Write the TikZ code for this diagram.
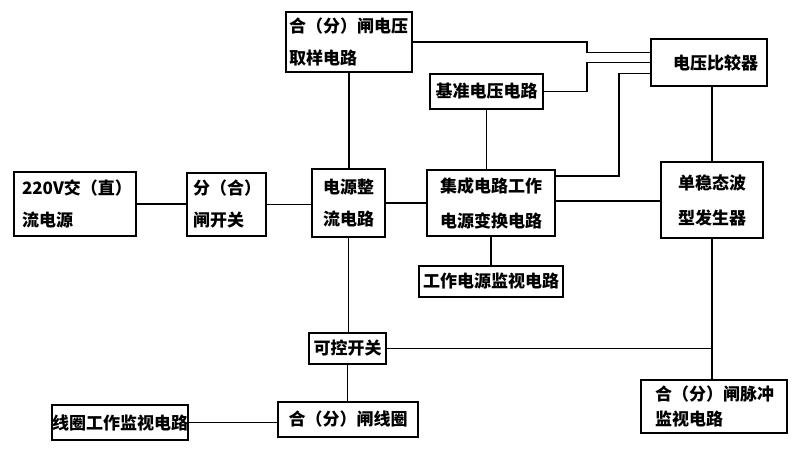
\documentclass[tikz,border=0pt]{standalone}
\usepackage{fontspec}
\setmainfont{Noto Sans CJK SC}
\usepackage{tikz}

\begin{document}
\begin{tikzpicture}[x=1pt,y=-1pt,
  box/.style={draw, line width=1.7pt, inner ysep=0pt, font=\bfseries\fontsize{17}{32}\selectfont},
  wire/.style={line width=1.6pt}]
\fill [white] (0,0) rectangle (800,453);
\useasboundingbox (0,0) rectangle (800,453);
%
\node [box, minimum width=126pt, minimum height=60pt, text width=120pt, inner xsep=3pt, align=left] (sample) at (349,42) {合（分）闸电压\\取样电路};
\node [box, minimum width=113pt, minimum height=35pt, inner xsep=2pt] (ref) at (486.5,91.5) {基准电压电路};
\node [box, minimum width=116pt, minimum height=47pt, text width=98pt, inner xsep=9pt, align=right] (cmp) at (709,62.5) {电压比较器};
%
\node [box, minimum width=122pt, minimum height=64pt, text width=106pt, inner xsep=8pt, align=left] (src) at (75,204) {220V交（直）\\流电源};
\node [box, minimum width=79pt, minimum height=63pt, text width=67pt, inner xsep=6pt, align=left] (brk) at (226.5,204.5) {分（合）\\闸开关};
\node [box, minimum width=73pt, minimum height=68pt, align=center] (rect) at (348.5,203) {电源整\\流电路};
\node [box, minimum width=128pt, minimum height=66pt, align=center] (conv) at (491,203) {集成电路工作\\[3pt]电源变换电路};
\node [box, minimum width=102pt, minimum height=76pt, align=center] (mono) at (712,200) {单稳态波\\[3pt]型发生器};
\node [box, minimum width=144pt, minimum height=31pt, inner xsep=1pt] (psup) at (491,281.5) {工作电源监视电路};
%
\node [box, minimum width=77pt, minimum height=31pt, inner xsep=1pt] (sw) at (347.5,348.5) {可控开关};
\node [box, minimum width=140pt, minimum height=35pt, inner xsep=1pt] (coil) at (348,419.5) {合（分）闸线圈};
\node [box, minimum width=136pt, minimum height=35pt, inner xsep=0pt] (cmon) at (120,422.5) {线圈工作监视电路};
\node [box, minimum width=146pt, minimum height=53pt, text width=118pt, inner xsep=14pt, align=left, font=\bfseries\fontsize{17}{25}\selectfont] (pmon) at (714,406.5) {合（分）闸脉冲\\监视电路};
%
\draw [wire] (sample.east) -- ++(174,0) |- ([yshift=10pt]cmp.west);
\draw [wire] (ref.east) -- ++(43,0) |- (cmp.west);
\draw [wire] ([yshift=27pt]conv.east) -- ++(63,0) |- ([yshift=-11pt]cmp.west);
%
\draw [wire] (src.east) -- (src.east -| brk.west);
\draw [wire] (brk.east) -- (brk.east -| rect.west);
\draw [wire] (rect.east) -- (rect.east -| conv.west);
\draw [wire] ([yshift=2pt]conv.east) -- ([yshift=2pt]conv.east -| mono.west);
%
\draw [wire] (sample.south) -- (sample.south |- rect.north);
\draw [wire] (ref.south) -- (ref.south |- conv.north);
\draw [wire] (conv.south) -- (conv.south |- psup.north);
\draw [wire] (mono.north) -- (mono.north |- cmp.south);
\draw [wire] (rect.south) -- (rect.south |- sw.north);
\draw [wire] (sw.south) -- (sw.south |- coil.north);
\draw [wire] (mono.south) -- (mono.south |- pmon.north);
\draw [wire] (sw.east) -- (sw.east -| mono.south);
\draw [wire] (cmon.east) -- (cmon.east -| coil.west);
%%%%%%%%%%%%%%%%%%%%%%%%%%%%%%%
\end{tikzpicture}
\end{document}
